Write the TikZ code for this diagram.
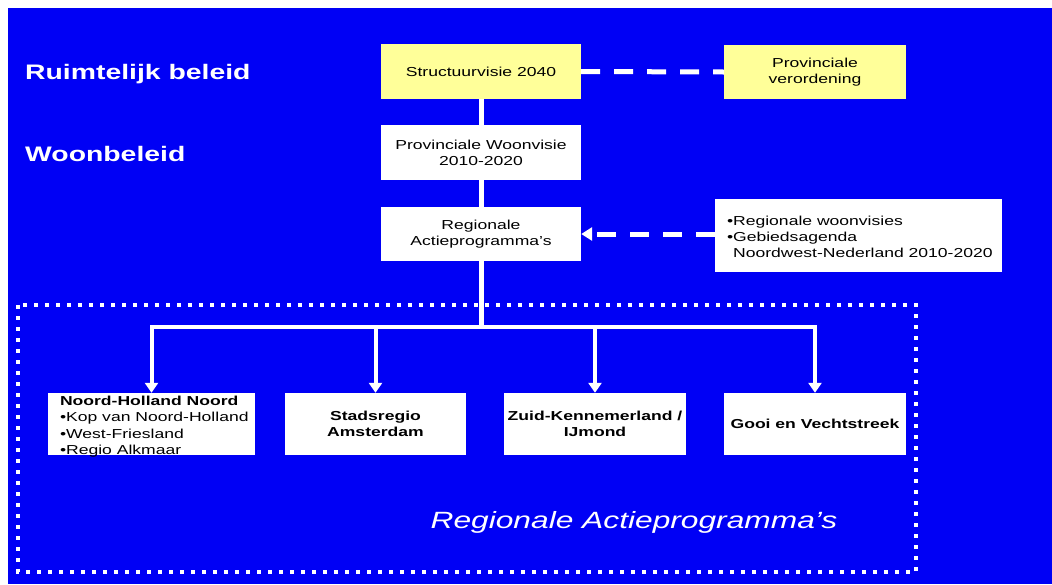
\documentclass[tikz,border=0pt]{standalone}
\usepackage{fontspec}
\setmainfont{Liberation Sans}[FakeStretch=1.35]
\usetikzlibrary{arrows.meta}
\definecolor{slideblue}{RGB}{0,0,245}
\definecolor{paleyellow}{RGB}{255,255,153}
\begin{document}
\begin{tikzpicture}[x=1pt,y=-1pt,
  box/.style={fill=white, inner sep=0pt, align=center, text=black,
    font=\fontsize{13}{16}\selectfont},
  ybox/.style={box, fill=paleyellow},
  rowbox/.style={box, minimum height=62pt, font=\bfseries\fontsize{13}{16.5}\selectfont},
  inner/.style={inner sep=0pt, align=left, text=black, anchor=west},
  sidelabel/.style={text=white, font=\bfseries\fontsize{21}{24}\selectfont, anchor=base west, inner sep=0pt},
  link/.style={white, line width=5pt},
  dashlink/.style={white, line width=5pt, dash pattern=on 19pt off 14pt},
  branch/.style={white, line width=4pt, -{Triangle[width=13pt,length=10pt]}},
  frame/.style={white, line width=4pt, dash pattern=on 4pt off 7pt},
]
\fill[white] (0,0) rectangle (1052,584);
\fill[slideblue] (8,8) rectangle (1052,584);
\useasboundingbox (0,0) rectangle (1052,584);

% side labels
\node[sidelabel] (rb) at (25,79) {Ruimtelijk beleid};
\node[sidelabel] (wb) at (25,161) {Woonbeleid};

% upper boxes
\node[ybox, minimum width=200pt, minimum height=55pt] (sv) at (481,71.5) {Structuurvisie 2040};
\node[ybox, minimum width=182pt, minimum height=54pt] (vo) at (815,72) {Provinciale\\verordening};
\node[box, minimum width=200pt, minimum height=55pt] (wv) at (481,152.5) {Provinciale Woonvisie\\2010-2020};
\node[box, minimum width=200pt, minimum height=54pt] (ra) at (481,234) {Regionale\\Actieprogramma's};
\node[box, minimum width=287pt, minimum height=73pt] (info) at (858.5,235.5) {};
\node[inner, font=\fontsize{13}{16}\selectfont] (infotext) at ([xshift=12pt,yshift=-1pt]info.west)
  {•Regionale woonvisies\\•Gebiedsagenda\\\hphantom{•}Noordwest-Nederland 2010-2020};

% dotted frame
\draw[frame] (18,305) rectangle (916,572);

% lower boxes
\node[rowbox, minimum width=207pt] (nhn) at (151.5,424) {};
\node[inner, font=\fontsize{13}{16.5}\selectfont] (nhntext) at ([xshift=12pt,yshift=-2.5pt]nhn.west)
  {\textbf{Noord-Holland Noord}\\•Kop van Noord-Holland\\•West-Friesland\\•Regio Alkmaar};
\node[rowbox, minimum width=181pt] (sra) at (375.5,424) {Stadsregio\\Amsterdam};
\node[rowbox, minimum width=182pt] (zk) at (595,424) {Zuid-Kennemerland /\\IJmond};
\node[rowbox, minimum width=182pt] (gv) at (815,424) {Gooi en Vechtstreek};

\node[text=white, inner sep=0pt, font=\itshape\fontsize{23.5}{28}\selectfont] (title) at (634,522) {Regionale Actieprogramma's};

% connectors
\draw[link] (sv.south) -- (wv.north);
\draw[link] (wv.south) -- (ra.north);
\coordinate (bus) at (481,327);
\draw[link] (ra.south) -- (bus);
\draw[branch] (bus) -| (nhn.north);
\draw[branch] (bus) -| (gv.north);
\draw[branch] (sra.north |- bus) -- (sra.north);
\draw[branch] (zk.north |- bus) -- (zk.north);

\draw[dashlink] (sv.east) -- (vo.west);
\draw[dashlink, -{Triangle[width=13pt,length=11pt]}] (info.west |- ra.east) -- (ra.east);
\end{tikzpicture}
\end{document}
